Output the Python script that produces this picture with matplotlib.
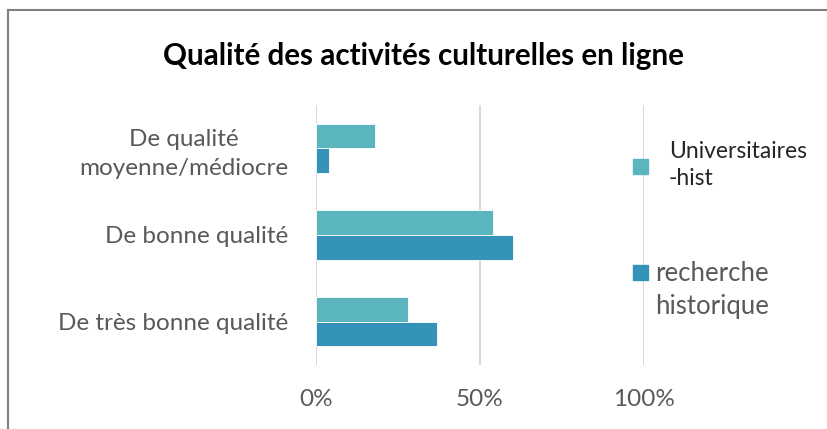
import matplotlib.pyplot as plt
import numpy as np
from matplotlib.patches import Rectangle
from matplotlib.lines import Line2D

plt.rcParams['font.family'] = ['Lato', 'DejaVu Sans']

# --- data ---
categories = ["De qualité\nmoyenne/médiocre", "De bonne qualité", "De très bonne qualité"]
universitaires = [0.18, 0.54, 0.28]
recherche = [0.04, 0.60, 0.37]
series_names = ["Universitaires\n-hist", "recherche\nhistorique"]
xticks = [0, 0.5, 1.0]
xtick_labels = ["0%", "50%", "100%"]

c_univ = "#5BB5BF"
c_rech = "#3592B9"

W, H = 828, 429
fig = plt.figure(figsize=(W / 100, H / 100), dpi=100)
ax = fig.add_axes([316 / W, 1 - 365 / H, 328 / W, 260 / H])

y = np.arange(len(categories))
h = 0.285
ax.barh(y - h / 2, universitaires, height=h, color=c_univ, edgecolor="white", linewidth=0.6, zorder=3)
ax.barh(y + h / 2, recherche, height=h, color=c_rech, edgecolor="white", linewidth=0.6, zorder=3)

ax.set_xlim(0, 1.0)
ax.set_ylim(len(categories) - 0.5, -0.5)
ax.set_xticks(xticks)
ax.set_xticklabels(xtick_labels, fontsize=17.5, color="#595959")
ax.set_yticks(y)
ax.set_yticklabels(categories, fontsize=17.5, color="#595959", ha="right",
                   multialignment="center", linespacing=1.45)
ax.tick_params(axis="x", length=0, pad=17)
ax.tick_params(axis="y", length=0, pad=20)
ax.grid(axis="x", color="#D9D9D9", linewidth=1.5, zorder=0)
ax.set_axisbelow(True)
for s in ax.spines.values():
    s.set_visible(False)

fig.text(423 / W, 1 - 56 / H, "Qualité des activités culturelles en ligne",
         ha="center", va="center", fontsize=21.3, fontweight="bold", color="black")

# legend drawn by hand to match the odd layout
fig.patches.append(Rectangle((633 / W, 1 - 174 / H), 15 / W, 15 / H,
                             transform=fig.transFigure, color=c_univ, figure=fig))
fig.patches.append(Rectangle((633 / W, 1 - 280 / H), 15 / W, 15 / H,
                             transform=fig.transFigure, color=c_rech, figure=fig))
fig.text(669 / W, 1 - 165 / H, series_names[0], ha="left", va="center",
         fontsize=16.5, color="#262626", linespacing=1.38)
fig.text(655 / W, 1 - 290 / H, series_names[1], ha="left", va="center",
         fontsize=18.5, color="#595959", linespacing=1.38)

# chart frame (only top and left show in the crop)
fig.add_artist(Line2D([8 / W, 8 / W], [0, 1 - 10 / H], transform=fig.transFigure,
                      color="#7F7F7F", linewidth=1.5))
fig.add_artist(Line2D([8 / W, 1], [1 - 10 / H, 1 - 10 / H], transform=fig.transFigure,
                      color="#7F7F7F", linewidth=1.5))

fig.savefig("out.png", dpi=100)
